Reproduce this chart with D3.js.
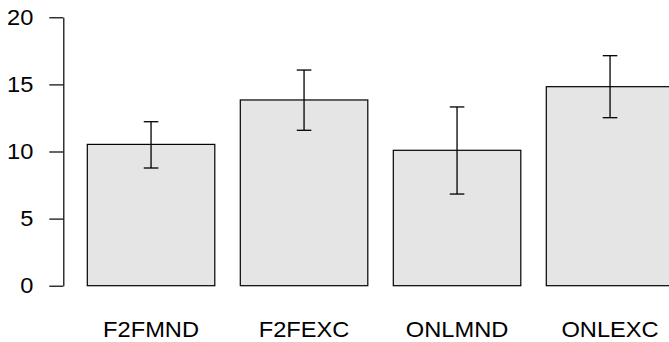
<!DOCTYPE html>
<html>
<head>
<meta charset="utf-8">
<script src="https://cdn.jsdelivr.net/npm/d3@7"></script>
<style>
  html, body { margin: 0; padding: 0; background: #fff; }
  svg { display: block; font-family: "Liberation Sans", Arial, Helvetica, sans-serif; }
</style>
</head>
<body>
<svg id="chart" width="669" height="342"></svg>
<script>
// Group names and their mean scores with lower/upper error limits
const categories = ["F2FMND", "F2FEXC", "ONLMND", "ONLEXC"];
const means = [10.53, 13.84, 10.09, 14.83];
const lower = [8.77, 11.58, 6.83, 12.52];
const upper = [12.22, 16.07, 13.32, 17.14];
const yTicks = [0, 5, 10, 15, 20];

const svg = d3.select("#chart");
const fontSize = 21.5;
const stretch = 1.1; // text is drawn slightly wide

// Bars sit at 0.2 + i*1.2 with unit width (barplot-style spacing)
const x = d3.scaleLinear().domain([0, 1]).range([61.8, 189.3]);
const y = d3.scaleLinear().domain([0, 20]).range([285.7, 17.3]);

const barLeft = i => 0.2 + i * 1.2;
const barMid = i => barLeft(i) + 0.5;

// Bars
svg.append("g").selectAll("rect")
  .data(means)
  .join("rect")
  .attr("x", (d, i) => x(barLeft(i)))
  .attr("width", x(1) - x(0))
  .attr("y", d => y(d))
  .attr("height", d => y(0) - y(d))
  .attr("fill", "#e5e5e5")
  .attr("stroke", "#000")
  .attr("stroke-width", 1.2);

// Error bars
const capHalf = 7.3;
const eb = svg.append("g").attr("stroke", "#000").attr("stroke-width", 1.3);
categories.forEach((c, i) => {
  const cx = x(barMid(i));
  eb.append("line").attr("x1", cx).attr("x2", cx).attr("y1", y(lower[i])).attr("y2", y(upper[i]));
  eb.append("line").attr("x1", cx - capHalf).attr("x2", cx + capHalf).attr("y1", y(upper[i])).attr("y2", y(upper[i]));
  eb.append("line").attr("x1", cx - capHalf).attr("x2", cx + capHalf).attr("y1", y(lower[i])).attr("y2", y(lower[i]));
});

// Y axis
const tickLen = 14, tickPad = 16;
const yAxis = d3.axisLeft(y).tickValues(yTicks).tickSize(tickLen).tickPadding(tickPad).tickSizeOuter(0);
const gy = svg.append("g").attr("transform", "translate(63.3,0)").call(yAxis);
gy.select(".domain").attr("stroke", "#000").attr("stroke-width", 1.2);
gy.selectAll(".tick line").attr("stroke", "#000").attr("stroke-width", 1.2);
gy.selectAll(".tick text")
  .attr("x", 0)
  .attr("transform", `translate(${-(tickLen + tickPad)},0) scale(${stretch},1)`)
  .attr("font-size", fontSize)
  .attr("font-family", "Liberation Sans, Arial, sans-serif")
  .attr("fill", "#000");

// Category labels under each bar
svg.append("g").selectAll("text")
  .data(categories)
  .join("text")
  .attr("transform", (d, i) => `translate(${x(barMid(i))},336.7) scale(${stretch},1)`)
  .attr("text-anchor", "middle")
  .attr("font-size", fontSize)
  .attr("fill", "#000")
  .text(d => d);
</script>
</body>
</html>
